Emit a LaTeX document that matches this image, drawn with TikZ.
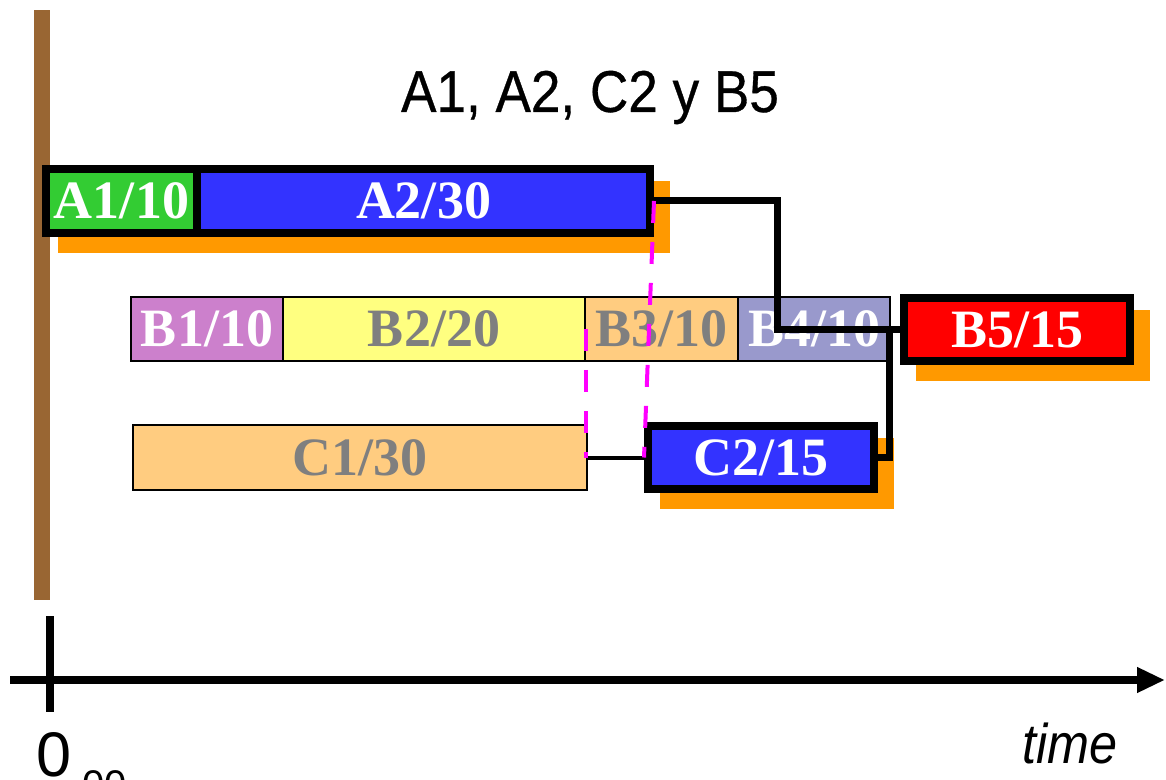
\documentclass[tikz,border=0pt]{standalone}
\usepackage{fontspec}
\setmainfont{Liberation Serif}
\newfontfamily\sansfnt{Liberation Sans}
\newfontfamily\titlefnt[FakeBold=0.6]{Liberation Sans}
\usetikzlibrary{arrows.meta,backgrounds,calc}
\definecolor{agreen}{HTML}{33CC33}
\definecolor{ablue}{HTML}{3333FF}
\definecolor{borchid}{HTML}{CC80CC}
\definecolor{byellow}{HTML}{FFFF80}
\definecolor{bpeach}{HTML}{FFCC80}
\definecolor{blavender}{HTML}{9999CC}
\definecolor{bred}{HTML}{FF0000}
\definecolor{shadoworange}{HTML}{FF9900}
\definecolor{barbrown}{HTML}{996633}
\definecolor{hintmagenta}{HTML}{FF00FF}
\definecolor{labelgray}{HTML}{7F7F7F}
\begin{document}
\begin{tikzpicture}[x=0.5pt,y=-0.5pt,
  labelfont/.style={font=\fontsize{27}{27}\selectfont\bfseries},
  thickbox/.style={draw=black, line width=4pt, inner sep=0pt, labelfont, text=white},
  thinbox/.style={draw=black, line width=1pt, inner sep=0pt, labelfont, minimum height=32pt},
  shadowfill/.style={fill=shadoworange},
  link/.style={draw=black, line width=3.5pt, line join=miter},
  hint/.style={draw=hintmagenta, line width=2pt, dash pattern=on 11pt off 9.5pt},
  axisline/.style={draw=black, line width=4pt}]
\useasboundingbox (0,0) rectangle (1166,780);

% task boxes
\node[thickbox, fill=agreen, minimum width=75.5pt, minimum height=32pt] (A1) at (121.5,201) {A1/10};
\node[thickbox, fill=ablue, minimum width=226.5pt, minimum height=32pt] (A2) at (423.5,201) {A2/30};

\node[thinbox, fill=borchid, text=white, minimum width=76pt] (B1) at (207,329) {B1/10};
\node[thinbox, fill=byellow, text=labelgray, minimum width=151pt] (B2) at (434,329) {B2/20};
\node[thinbox, fill=bpeach, text=labelgray, minimum width=76.5pt] (B3) at (661.5,329) {B3/10};
\node[thinbox, fill=blavender, text=white, minimum width=76pt] (B4) at (814,329) {B4/10};
\node[thickbox, fill=bred, minimum width=113pt, minimum height=31.5pt] (B5) at (1017,329.5) {B5/15};

\node[thinbox, fill=bpeach, text=labelgray, minimum width=227pt, minimum height=32.5pt] (C1) at (360,457.5) {C1/30};
\node[thickbox, fill=ablue, minimum width=113pt, minimum height=31.5pt] (C2) at (761,457.5) {C2/15};

% background: time-zero bar and shadows
\begin{scope}[on background layer]
  \fill[barbrown] (34,10) rectangle (50,600);
  \fill[shadowfill] ($(A1.north west)+(16,16)$) rectangle ($(A2.south east)+(16,16)$);
  \fill[shadowfill] ($(B5.north west)+(16,16)$) rectangle ($(B5.south east)+(16,16)$);
  \fill[shadowfill] ($(C2.north west)+(16,16)$) rectangle ($(C2.south east)+(16,16)$);
\end{scope}

% critical path connectors
\coordinate (bendA) at (777,202);
\coordinate (joinC) at (889,330);
\draw[link] (A2.east) -| (bendA |- B5.west) -- (B5.west);
\draw[link] (C2.east) -| (joinC);
\draw[link, line width=2pt] (C1.east) -- (C2.west);

% magenta dashed hints
\draw[hint] (B2.east) -- (B2.east |- C1.east);
\draw[hint] (A2.east) -- (C2.west);

% time axis
\coordinate (axstart) at (10,680);
\coordinate (axend) at (1165,680);
\coordinate (ticktop) at (50,616);
\coordinate (tickbot) at (50,712);
\draw[axisline, -{Triangle[length=14pt,width=12pt]}] (axstart) -- (axend);
\draw[axisline] (ticktop) -- (tickbot);

% texts
\node[anchor=base, inner sep=0pt] (title) at (590,112)
  {\titlefnt\fontsize{29.5}{30}\selectfont\scalebox{0.9}[1]{A1, A2, C2 y B5}};
\node[anchor=base west, inner sep=0pt] (timelbl) at (1022,763)
  {\sansfnt\itshape\fontsize{28}{28}\selectfont\scalebox{0.9}[1]{time}};
\node[anchor=north west, inner sep=0pt] (zero) at (36,732)
  {\sansfnt\fontsize{31.5}{32}\selectfont 0};
\node[anchor=north west, inner sep=0pt] (zerosub) at (82,770)
  {\sansfnt\fontsize{20}{20}\selectfont 00};
\end{tikzpicture}
\end{document}
